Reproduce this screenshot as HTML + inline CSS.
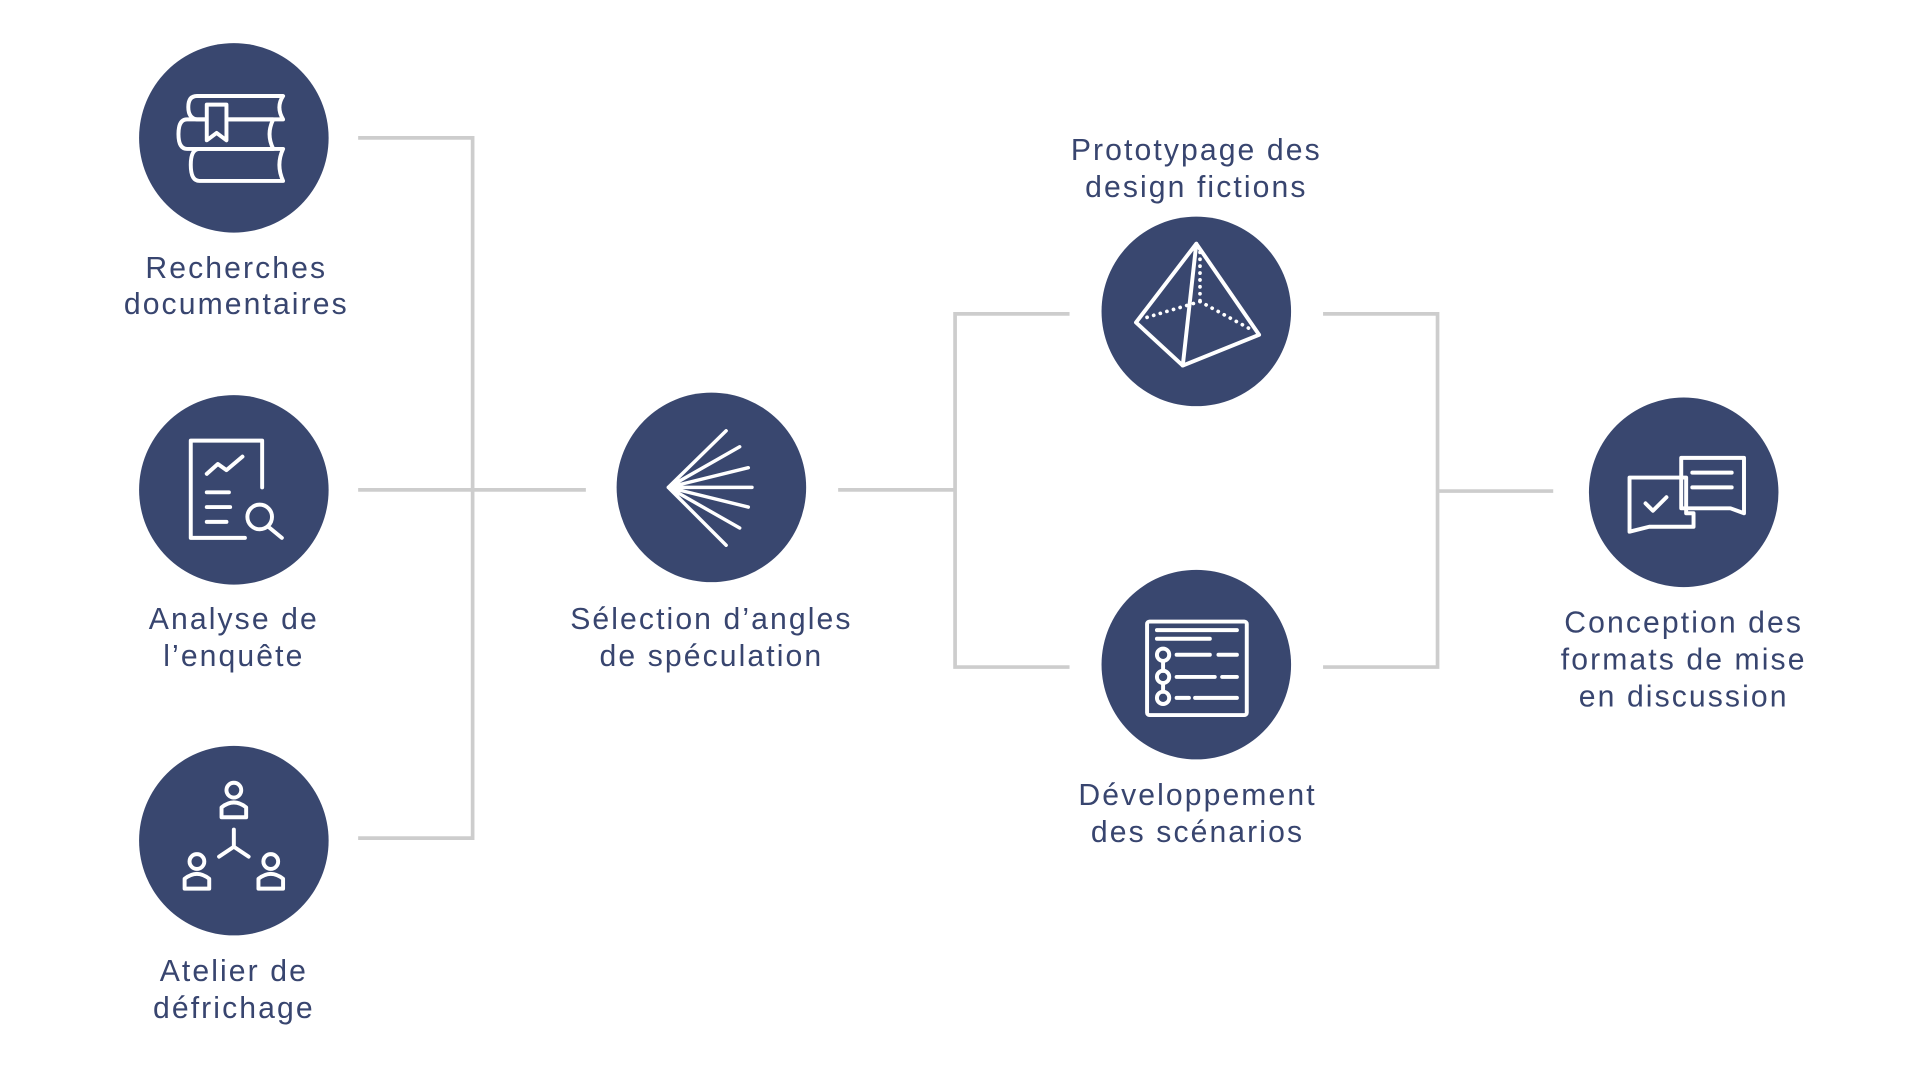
<!DOCTYPE html>
<html><head><meta charset="utf-8"><style>
html,body{margin:0;padding:0;background:#fff;width:1920px;height:1080px;overflow:hidden}
svg{display:block}
text{font-family:"Liberation Sans",sans-serif;font-size:24.5px;fill:#38456f;text-anchor:middle;letter-spacing:1.7px}
</style></head><body>
<svg width="1920" height="1080" viewBox="0 0 1560 877.5">
<g stroke="#cdcdcd" stroke-width="3" fill="none">
<path d="M291 112H384V681H291M291 398H476"/>
<path d="M681 398H776M869 255H776V542H869"/>
<path d="M1075 255H1168V542H1075M1168 399H1262"/>
</g>
<g fill="#39476f">
<circle cx="190" cy="112" r="77"/>
<circle cx="190" cy="398" r="77"/>
<circle cx="190" cy="683" r="77"/>
<circle cx="578" cy="396" r="77"/>
<circle cx="972" cy="253" r="77"/>
<circle cx="972" cy="540" r="77"/>
<circle cx="1368" cy="400" r="77"/>
</g>
<g stroke="#fff" stroke-width="3.2" fill="none" stroke-linecap="round" stroke-linejoin="round">
<path d="M230 78H160Q153 78 153 87Q153 96 160 97H230Q224 87 230 78Z"/>
<path d="M222 97H152Q145 97 145 109Q145 121 152 121H222Q216 109 222 97Z"/>
<path d="M230 121H162Q155 121 155 134Q155 147 162 147H230Q224 134 230 121Z"/>
<path d="M168 85V114L176 108L184 114V85Z" fill="#39476f"/>
<path d="M199 437H155V358H213V396"/>
<path d="M168 385L177 377L184 382L197 371"/>
<path d="M168 400H186M168 412H187M168 424H184"/>
<circle cx="211" cy="420" r="10"/>
<path d="M218 428L229 437"/>
<g stroke-width="2.8">
<path d="M543 396L590 350M543 396L601 363M543 396L608 380M543 396L611 396M543 396L608 412M543 396L601 429M543 396L590 443"/>
</g>
<circle cx="190" cy="642" r="6"/><path d="M180 664V656Q190 648 200 656V664Z"/>
<circle cx="160" cy="700" r="6"/><path d="M150 722V714Q160 706 170 714V722Z"/>
<circle cx="220" cy="700" r="6"/><path d="M210 722V714Q220 706 230 714V722Z"/>
<path d="M190 674V688L178 696M190 688L202 696"/>
<path d="M972 198L923 262L961 297L1023 272Z M972 198L961 297"/>
<path d="M975 205V245M975 245L928 259M975 245L1017 268" stroke-dasharray="0.1 5.5" stroke-width="3"/>
<rect x="932" y="505" width="81" height="76" rx="2"/>
<path d="M940 512H1005M940 519H983"/>
<circle cx="945" cy="532" r="5"/><circle cx="945" cy="550" r="5"/><circle cx="945" cy="567" r="5"/>
<path d="M945 537V545M945 555V562"/>
<path d="M956 532H983M990 532H1005M956 550H987M993 550H1005M956 567H966M971 567H1005"/>
<path d="M1366 372H1417V417L1406 413H1366Z"/>
<path d="M1376 417H1370V388H1324V432L1340 428H1376V417"/>
<path d="M1375 384H1407M1375 396H1407"/>
<path d="M1337 409L1343 415L1354 404"/>
</g>
<text x="192" y="226">Recherches</text>
<text x="192" y="255">documentaires</text>
<text x="190" y="511">Analyse de</text>
<text x="190" y="541">l’enquête</text>
<text x="190" y="797">Atelier de</text>
<text x="190" y="827">défrichage</text>
<text x="578" y="511">Sélection d’angles</text>
<text x="578" y="541">de spéculation</text>
<text x="972" y="130">Prototypage des</text>
<text x="972" y="160">design fictions</text>
<text x="973" y="654">Développement</text>
<text x="973" y="684">des scénarios</text>
<text x="1368" y="514">Conception des</text>
<text x="1368" y="544">formats de mise</text>
<text x="1368" y="574">en discussion</text>
</svg>
</body></html>
